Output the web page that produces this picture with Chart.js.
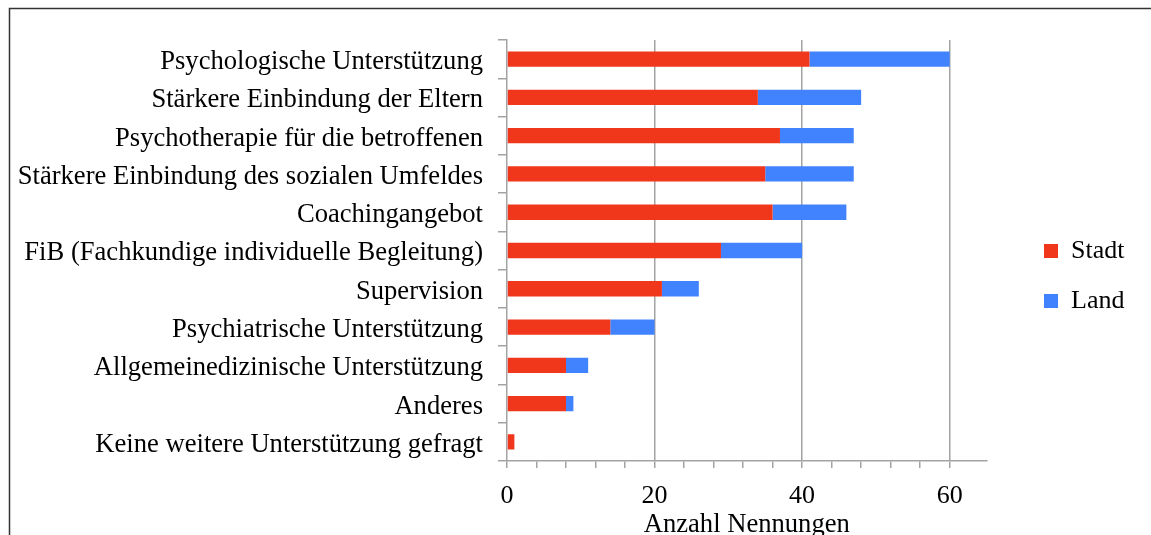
<!DOCTYPE html>
<html>
<head>
<meta charset="utf-8">
<script src="https://cdn.jsdelivr.net/npm/chart.js@4"></script>
<style>
  html, body { margin: 0; padding: 0; background: #fff; }
  #wrap { width: 1151px; height: 535px; }
</style>
</head>
<body>
<div id="wrap"><canvas id="chart" width="1151" height="535"></canvas></div>
<script>
// Data
const categories = [
  'Psychologische Unterstützung',
  'Stärkere Einbindung der Eltern',
  'Psychotherapie für die betroffenen',
  'Stärkere Einbindung des sozialen Umfeldes',
  'Coachingangebot',
  'FiB (Fachkundige individuelle Begleitung)',
  'Supervision',
  'Psychiatrische Unterstützung',
  'Allgemeinedizinische Unterstützung',
  'Anderes',
  'Keine weitere Unterstützung gefragt'
];
const stadtValues = [41, 34, 37, 35, 36, 29, 21, 14, 8, 8, 1];
const landValues = [19, 14, 10, 12, 10, 11, 5, 6, 3, 1, 0];
const xTickLabels = [0, 20, 40, 60];

// Styles
const serif = "'Liberation Serif', 'Times New Roman', serif";
const font = { family: serif, size: 26 };
const labelFont = { family: serif, size: 26.6 };
const gray = '#a3a3a3';
const none = 'rgba(0,0,0,0)';

// white background + the partial frame round the figure
const framePlugin = {
  id: 'frame',
  beforeDraw(chart) {
    const c = chart.ctx;
    c.save();
    c.fillStyle = '#fff';
    c.fillRect(0, 0, chart.width, chart.height);
    c.strokeStyle = '#333';
    c.lineWidth = 1.5;
    c.beginPath();
    c.moveTo(9.5, chart.height);
    c.lineTo(9.5, 8.5);
    c.lineTo(chart.width, 8.5);
    c.stroke();
    c.restore();
  }
};

// move the legend box off the plot edge, like the original
const legendPlacer = {
  id: 'legendPlacer',
  afterLayout(chart) {
    const lg = chart.legend;
    const dx = 1044 - (lg.left + lg.options.labels.padding);
    lg.left += dx;
    lg.right += dx;
    const dy = 214 - lg.top;
    lg.top += dy;
    lg.bottom += dy;
  }
};

new Chart(document.getElementById('chart'), {
  type: 'bar',
  data: {
    labels: categories,
    datasets: [
      { label: 'Stadt', data: stadtValues, backgroundColor: '#f0361b' },
      { label: 'Land', data: landValues, backgroundColor: '#4183ff' }
    ]
  },
  options: {
    responsive: false,
    animation: false,
    indexAxis: 'y',
    categoryPercentage: 0.4,
    barPercentage: 1,
    layout: { padding: { top: 40, right: 50, left: 0, bottom: 0 } },
    plugins: {
      legend: {
        position: 'right',
        align: 'start',
        labels: { font, color: '#000', boxWidth: 14, boxHeight: 14, padding: 24 }
      },
      tooltip: { enabled: false }
    },
    scales: {
      x: {
        stacked: true,
        min: 0,
        max: 65,
        ticks: {
          stepSize: 4,
          autoSkip: false,
          maxRotation: 0,
          color: '#000',
          font,
          padding: 13,
          callback: v => xTickLabels.includes(v) ? v : ''
        },
        grid: {
          color: ctx => (ctx.tick && ctx.tick.value > 0 && xTickLabels.includes(ctx.tick.value)) ? gray : none,
          tickColor: ctx => (ctx.tick && ctx.tick.value % 4 === 0) ? gray : none,
          lineWidth: 1.5,
          tickLength: 7
        },
        border: { color: gray, width: 1.5 },
        title: {
          display: true,
          text: 'Anzahl Nennungen',
          color: '#000',
          font: labelFont,
          padding: { top: 0, bottom: -6 }
        },
        afterFit: s => { s.height = 74; }
      },
      y: {
        stacked: true,
        ticks: { color: '#000', font: labelFont, padding: 15, labelOffset: 3, autoSkip: false },
        grid: { drawOnChartArea: false, tickLength: 9, color: gray, lineWidth: 1.5 },
        border: { color: gray, width: 1.5 },
        afterFit: s => { s.width = 507; }
      }
    }
  },
  plugins: [framePlugin, legendPlacer]
});
</script>
</body>
</html>
